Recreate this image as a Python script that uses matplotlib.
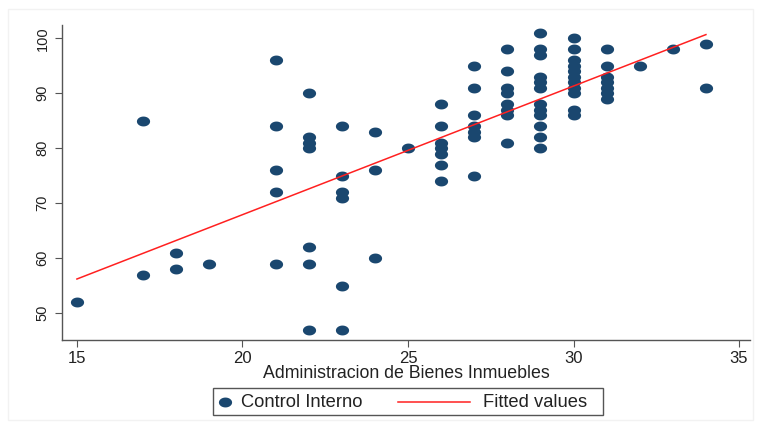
import numpy as np
import matplotlib.pyplot as plt
from matplotlib.path import Path
from matplotlib.lines import Line2D
from matplotlib.patches import Rectangle

plt.rcParams['font.family'] = ['Liberation Sans', 'DejaVu Sans']

# Administracion de Bienes Inmuebles (x) -> Control Interno (y), grouped by x
groups = {
    15: [52],
    17: [85, 57],
    18: [61, 58],
    19: [59],
    21: [96, 84, 76, 72, 59],
    22: [90, 82, 81, 80, 62, 59, 47],
    23: [84, 75, 72, 71, 55, 47],
    24: [83, 76, 60],
    25: [80],
    26: [88, 84, 81, 80, 79, 77, 74],
    27: [95, 91, 86, 84, 83, 82, 75],
    28: [98, 94, 91, 90, 88, 87, 86, 81],
    29: [101, 98, 97, 93, 92, 91, 88, 87, 86, 84, 82, 80],
    30: [100, 98, 96, 95, 94, 93, 92, 91, 90, 87, 86],
    31: [98, 95, 93, 92, 91, 90, 89],
    32: [95],
    33: [98],
    34: [99, 91],
}

x = np.array([k for k, v in groups.items() for _ in v], dtype=float)
y = np.array([val for v in groups.values() for val in v], dtype=float)

# fitted values (linear regression)
slope, intercept = np.polyfit(x, y, 1)
xfit = np.array([x.min(), x.max()])
yfit = intercept + slope * xfit

navy = '#1a476f'
red = '#ff2020'
# slightly wide ellipse marker, like the original
t = np.linspace(0, 2 * np.pi, 40)
ellipse = Path(np.column_stack([np.cos(t), 0.75 * np.sin(t)]), closed=True)

fig = plt.figure(figsize=(7.61, 4.28), dpi=100)

# faint outer graph region border
fig.add_artist(Rectangle((8 / 761, 8 / 428), 745 / 761, 411 / 428,
                         transform=fig.transFigure, fill=False,
                         edgecolor='#f2f2f2', lw=1))

ax = fig.add_axes([0.0815, 0.2056, 0.904, 0.736])

ax.plot(x, y, linestyle='none', marker=ellipse, markersize=9.5,
        color=navy, markeredgewidth=0)
ax.plot(xfit, yfit, color=red, lw=1.1)

ax.set_xlim(14.55, 35.33)
ax.set_ylim(45.1, 102.4)
ax.set_xticks([15, 20, 25, 30, 35])
ax.set_yticks([50, 60, 70, 80, 90, 100])

for side in ['top', 'right']:
    ax.spines[side].set_visible(False)
for side in ['left', 'bottom']:
    ax.spines[side].set_color('#555555')
    ax.spines[side].set_linewidth(1.0)
ax.tick_params(direction='out', length=5, color='#555555',
               labelcolor='#222222')
ax.tick_params(axis='x', labelsize=12, pad=3)
ax.tick_params(axis='y', labelsize=10.5, pad=4)
for lab in ax.get_yticklabels():
    lab.set_rotation(90)
    lab.set_va('center')

ax.set_xlabel('Administracion de Bienes Inmuebles', fontsize=12.8,
              color='#222222', labelpad=-1)

# legend below the plot, laid out like the original
ly = 0.0607
fig.add_artist(Rectangle((0.2799, 0.0304), 0.5125, 0.0631,
                         transform=fig.transFigure, fill=False,
                         edgecolor='#555555', lw=1))
fig.add_artist(Line2D([0.2957], [ly], transform=fig.transFigure,
                      linestyle='none', marker=ellipse, markersize=9.5,
                      color=navy, markeredgewidth=0))
fig.text(0.3167, ly, 'Control Interno', fontsize=13.2, color='#222222',
         ha='left', va='center')
fig.add_artist(Line2D([0.523, 0.6176], [ly, ly], transform=fig.transFigure,
                      color=red, lw=1.1))
fig.text(0.6347, ly, 'Fitted values', fontsize=13.2, color='#222222',
         ha='left', va='center')

fig.savefig('out.png', dpi=100)
